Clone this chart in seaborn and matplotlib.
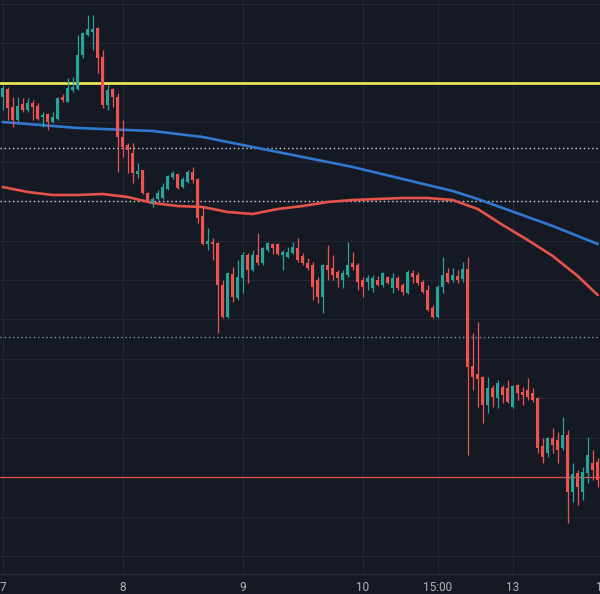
import numpy as np
import pandas as pd
import matplotlib
matplotlib.use('Agg')
import matplotlib.pyplot as plt
import seaborn as sns

# hourly candles, price in chart points
opens = [503, 511, 493, 480, 496, 490, 497, 494, 483, 486,
         478, 481, 503, 498, 510, 511, 545, 565, 568, 572,
         543, 495, 511, 503, 463, 455, 447, 426, 430, 407,
         397, 401, 402, 411, 423, 426, 413, 418, 428, 421,
         384, 356, 358, 357, 315, 283, 326, 302, 322, 345,
         330, 345, 337, 350, 356, 356, 345, 343, 347, 352,
         344, 337, 335, 320, 303, 335, 332, 328, 320, 325,
         337, 335, 320, 318, 312, 320, 315, 323, 312, 322,
         315, 307, 327, 325, 318, 310, 292, 283, 313, 327,
         320, 324, 321, 331, 234, 226, 223, 195, 212, 202,
         213, 212, 193, 215, 208, 210, 207, 202, 154, 147,
         162, 160, 152, 165, 108, 127, 108, 127, 137, 138]
closes = [512, 492, 480, 494, 490, 497, 493, 481, 485, 478,
          483, 502, 500, 512, 513, 545, 567, 571, 571, 542,
          495, 510, 503, 463, 453, 450, 427, 429, 407, 398,
          401, 407, 413, 424, 427, 412, 421, 428, 420, 382,
          356, 359, 356, 315, 283, 327, 303, 323, 345, 330,
          345, 337, 352, 357, 352, 346, 348, 348, 353, 340,
          337, 332, 313, 303, 335, 330, 325, 322, 327, 335,
          333, 318, 313, 322, 322, 315, 327, 317, 322, 312,
          308, 328, 323, 317, 308, 290, 283, 313, 325, 318,
          325, 320, 331, 233, 223, 221, 195, 212, 203, 217,
          205, 198, 214, 207, 205, 203, 200, 152, 143, 162,
          155, 150, 165, 108, 126, 113, 128, 145, 130, 120]
highs = [515, 513, 503, 503, 502, 502, 500, 497, 488, 487,
         488, 503, 506, 522, 523, 565, 568, 585, 585, 573,
         550, 515, 512, 507, 480, 457, 457, 437, 430, 408,
         403, 410, 417, 425, 429, 427, 423, 430, 433, 422,
         393, 372, 362, 358, 320, 328, 333, 340, 348, 347,
         350, 367, 353, 358, 357, 357, 350, 353, 358, 362,
         347, 342, 338, 323, 336, 355, 345, 330, 330, 358,
         348, 337, 323, 325, 325, 324, 328, 324, 327, 324,
         317, 330, 330, 328, 320, 315, 295, 315, 343, 332,
         332, 330, 338, 343, 267, 278, 224, 223, 215, 220,
         215, 220, 215, 216, 213, 222, 212, 203, 162, 163,
         172, 168, 183, 170, 137, 130, 133, 163, 150, 142]
lows = [490, 480, 473, 478, 488, 488, 480, 480, 473, 470,
        477, 480, 498, 498, 508, 510, 542, 564, 550, 527,
        492, 490, 493, 428, 443, 427, 417, 422, 406, 398,
        393, 400, 401, 410, 421, 411, 412, 417, 417, 377,
        355, 350, 340, 267, 282, 282, 298, 300, 307, 317,
        329, 335, 335, 348, 346, 345, 330, 342, 346, 338,
        335, 330, 300, 297, 287, 320, 320, 313, 312, 323,
        330, 310, 303, 310, 308, 314, 313, 316, 307, 310,
        305, 306, 317, 315, 307, 289, 282, 282, 307, 317,
        318, 317, 318, 145, 210, 193, 177, 187, 193, 192,
        197, 197, 192, 200, 195, 200, 198, 147, 137, 143,
        147, 137, 150, 77, 98, 95, 100, 117, 120, 113]

# moving averages read every 5 candles
ma_idx = [0, 5, 10, 15, 20, 25, 30, 35, 40, 45, 50, 55, 60,
          65, 70, 75, 80, 85, 90, 95, 100, 105, 110, 115, 119]
ma_slow = [478, 476, 474, 472, 471, 470, 469, 466, 463, 458, 453, 448, 443,
           438, 433, 427, 421, 415, 409, 401, 392, 383, 374, 364, 356]
ma_fast = [413, 408, 405, 405, 406, 403, 397, 394, 393, 388, 386, 391, 394,
           398, 400, 401, 402, 402, 400, 391, 375, 360, 344, 324, 305]

# horizontal levels
resistance = 517
dotted_levels = [452, 399]
lower_dotted = 263
support = 123

tick_pos = [0, 24, 48, 72, 87, 102]
tick_labels = ['7', '8', '9', '10', '15:00', '13']

bg = '#151924'
up_col = '#26a69a'
down_col = '#ef5350'

sns.set_theme(style='dark', rc={'axes.facecolor': bg, 'figure.facecolor': bg})
plt.rcParams['font.family'] = ['Roboto', 'DejaVu Sans']

df = pd.DataFrame({'open': opens, 'high': highs, 'low': lows, 'close': closes})
df['idx'] = np.arange(len(df))
df['up'] = df['close'] >= df['open']
df['color'] = np.where(df['up'], up_col, down_col)
df['bottom'] = df[['open', 'close']].min(axis=1)
df['height'] = (df['close'] - df['open']).abs().clip(lower=1.2)

fig = plt.figure(figsize=(6, 5.94), dpi=100)
ax = fig.add_axes([0, 20 / 594, 1, 574 / 594])

# grid
ax.set_yticks(np.arange(44, 600, 39.43))
ax.set_xticks(tick_pos)
ax.grid(True, color='#232734', lw=0.8)
ax.set_axisbelow(True)

# levels
ax.axhline(resistance, color='#f2ee5c', lw=1.9, zorder=1)
for lv in dotted_levels:
    ax.axhline(lv, color='#d1d4dc', lw=1.0, ls=(0, (1, 2)), zorder=1)
ax.axhline(lower_dotted, color='#6f9499', lw=1.0, ls=(0, (1, 2)), zorder=1)
ax.axhline(support, color='#e0504e', lw=0.9, zorder=1)

# moving averages
sns.lineplot(x=ma_idx, y=ma_slow, ax=ax, color='#3179d0', lw=1.9, zorder=2)
sns.lineplot(x=ma_idx, y=ma_fast, ax=ax, color='#e5534b', lw=1.9, zorder=2)

# candles
ax.vlines(df['idx'], df['low'], df['high'], colors=df['color'], lw=0.9, zorder=3)
ax.bar(df['idx'], df['height'], bottom=df['bottom'], width=0.68,
       color=df['color'], linewidth=0, zorder=4)

ax.set_xlim(-0.54, 119.46)
ax.set_ylim(26, 600)

ax.set_xticklabels(tick_labels)
ax.set_yticklabels([])
ax.tick_params(axis='x', length=0, pad=5, labelsize=8.5, labelcolor='#b2b5be')
ax.tick_params(axis='y', length=0)
ax.annotate('14', xy=(120, 0), xycoords=('data', 'axes fraction'),
            xytext=(0, -5), textcoords='offset points', ha='center', va='top',
            fontsize=8.5, color='#b2b5be', annotation_clip=False)

for s in ['top', 'left', 'right']:
    ax.spines[s].set_visible(False)
ax.spines['bottom'].set_color('#2a2e39')
ax.spines['bottom'].set_linewidth(1)

fig.savefig('out.png', dpi=100, facecolor=bg)
